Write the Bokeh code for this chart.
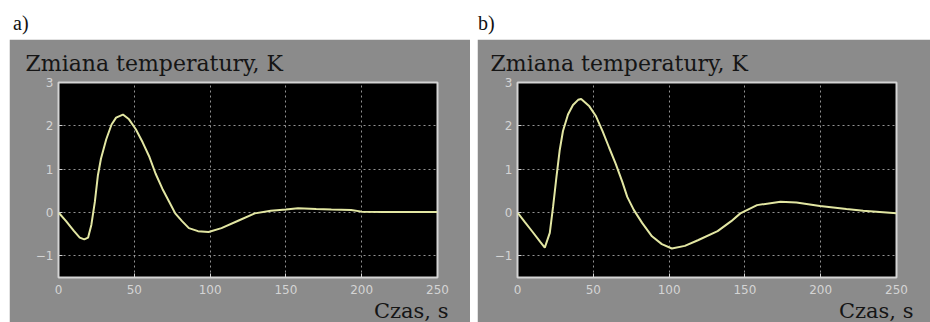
from bokeh.plotting import figure
from bokeh.models import Div, Spacer, Title
from bokeh.layouts import row, column
from bokeh.embed import file_html
from bokeh.resources import INLINE

# ---- data ----
time_a = [0, 5, 10, 14, 17, 19.5, 21.7, 24, 26, 28, 31.5, 35, 38, 42.5, 46.5, 51,
          55.5, 60, 64, 68.5, 73, 77, 81.5, 86, 92, 99, 107.5, 118.5, 129.5, 140,
          150, 158, 170, 180, 193, 200, 215, 250]
temp_a = [0, -0.2, -0.42, -0.58, -0.62, -0.58, -0.28, 0.25, 0.86, 1.24, 1.69, 2.03,
          2.19, 2.26, 2.15, 1.92, 1.62, 1.28, 0.90, 0.55, 0.25, -0.02, -0.20, -0.36,
          -0.43, -0.45, -0.36, -0.19, -0.02, 0.04, 0.07, 0.10, 0.08, 0.07, 0.06,
          0.02, 0.01, 0.01]

time_b = [0, 5, 10, 15, 18, 21.3, 23.5, 25.7, 27.8, 30, 33.3, 36.6, 40, 42, 47.4,
          51.8, 56.1, 60.4, 64.8, 69.2, 72.4, 76.7, 82.2, 88.7, 95.2, 101.8, 110.4,
          119, 132, 141, 147, 158, 173.5, 184, 199.5, 217, 228, 250]
temp_b = [0, -0.23, -0.45, -0.68, -0.81, -0.47, 0.14, 0.82, 1.43, 1.88, 2.26, 2.48,
          2.60, 2.62, 2.45, 2.22, 1.88, 1.50, 1.12, 0.70, 0.36, 0.06, -0.24, -0.55,
          -0.73, -0.83, -0.77, -0.64, -0.43, -0.20, -0.02, 0.17, 0.25, 0.23, 0.15,
          0.08, 0.04, -0.02]

x_ticks = [0, 50, 100, 150, 200, 250]
y_ticks = [-1, 0, 1, 2, 3]
title_text = "Zmiana temperatury, K"
xlabel_text = "Czas, s"
panel_labels = ["a)", "b)"]

GRAY = "#8b8b8b"
LIGHT = "#d4d4d4"
CURVE = "#e2e6a2"


def make_panel(t, v, width, left_border, right_border, title_off, xlabel_off):
    p = figure(width=width, height=283, x_range=(0, 250), y_range=(-1.5, 3),
               output_backend="svg", toolbar_location=None,
               min_border_left=left_border, min_border_right=right_border,
               min_border_top=43, min_border_bottom=45,
               background_fill_color="black", border_fill_color=GRAY,
               outline_line_color=LIGHT, outline_line_width=2)
    p.title.text = title_text
    p.title.align = "left"
    p.title.offset = title_off
    p.title.standoff = 14
    p.title.text_font = "DejaVu Serif"
    p.title.text_font_size = "22px"
    p.title.text_font_style = "normal"
    p.title.text_color = "#151515"
    p.xaxis.ticker = x_ticks
    p.yaxis.ticker = y_ticks
    for ax in (p.xaxis[0], p.yaxis[0]):
        ax.axis_line_color = None
        ax.major_tick_in = 4
        ax.major_tick_out = 0
        ax.major_tick_line_color = LIGHT
        ax.minor_tick_line_color = None
        ax.major_label_text_color = LIGHT
        ax.major_label_text_font = "DejaVu Sans"
        ax.major_label_text_font_size = "12px"
    p.xaxis.major_label_standoff = 7
    p.yaxis.major_label_standoff = 5
    p.grid.grid_line_color = "#c4c4c4"
    p.grid.grid_line_dash = "2 3"
    p.grid.grid_line_alpha = 0.75
    p.line(t, v, line_color=CURVE, line_width=2)
    p.add_layout(Title(text=xlabel_text, align="right", offset=xlabel_off,
                       standoff=0, text_font="DejaVu Serif",
                       text_font_size="21px", text_font_style="normal",
                       text_color="#151515", text_line_height=0.7),
                 "below")
    return p


def make_div(txt, width, pad_left):
    return Div(text=txt, width=width, height=39, margin=(0, 0, 0, 0),
               styles={"font-family": "Liberation Serif", "font-size": "20px",
                       "color": "#111111", "padding-left": f"{pad_left}px",
                       "padding-top": "13px", "line-height": "20px"})


fig_a = make_panel(time_a, temp_a, 461, 49, 33, -33, -11)
fig_b = make_panel(time_b, temp_b, 453, 40, 34, -27, -17)

layout = row(Spacer(width=9, height=322),
             column(make_div(panel_labels[0], 461, 4), fig_a),
             Spacer(width=7, height=322),
             column(make_div(panel_labels[1], 453, 1), fig_b))

open("out.html", "w").write(file_html(layout, INLINE))
